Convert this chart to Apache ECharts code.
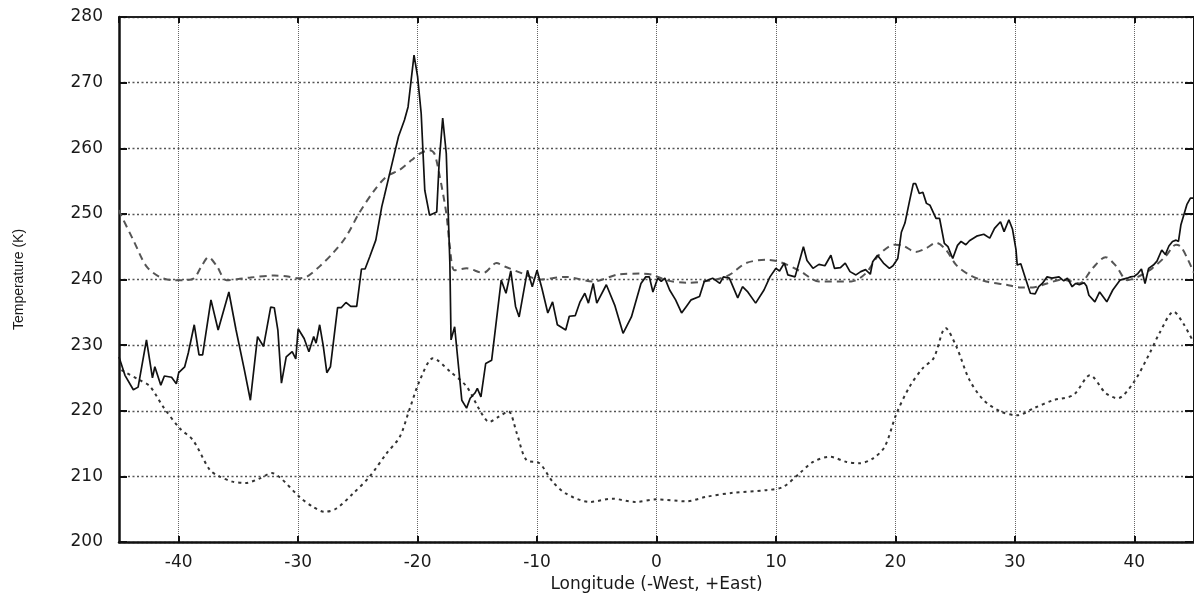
<!DOCTYPE html>
<html>
<head>
<meta charset="utf-8">
<script src="https://cdn.jsdelivr.net/npm/echarts@6/dist/echarts.min.js"></script>
<style>
    html, body { margin: 0; padding: 0; background: #fff; }
    #main { width: 1194px; height: 598px; }
</style>
</head>
<body>
<div id="main"></div>
<script>
// observed brightness temperature (solid)
var obsLon = [-45, -44.5, -43.8, -43.4, -42.7, -42.2, -42, -41.5, -41.2, -40.6, -40.2, -40, -39.5, -39.2, -38.7, -38.3, -38, -37.3, -36.7, -35.8, -35.2, -34.5, -34, -33.4, -32.9, -32.3, -32, -31.7, -31.4, -31, -30.5, -30.2, -30, -29.5, -29.1, -28.7, -28.5, -28.2, -27.9, -27.6, -27.3, -26.7, -26.4, -26, -25.6, -25.1, -24.7, -24.4, -24, -23.5, -23, -22.8, -22.2, -21.6, -21.1, -20.8, -20.3, -20, -19.7, -19.4, -19, -18.4, -18.2, -17.9, -17.6, -17.3, -17.2, -16.9, -16.6, -16.3, -15.9, -15.6, -15.2, -15, -14.7, -14.3, -13.8, -13.4, -13, -12.6, -12.2, -11.8, -11.5, -11, -10.8, -10.4, -10, -9.6, -9.1, -8.7, -8.3, -7.6, -7.3, -6.8, -6.4, -6, -5.7, -5.3, -5, -4.2, -3.5, -2.8, -2.1, -1.3, -0.9, -0.6, -0.3, 0.1, 0.4, 0.7, 1.1, 1.6, 2.1, 2.5, 2.9, 3.6, 4, 4.7, 5.3, 5.6, 6.1, 6.8, 7.2, 7.6, 8.3, 9, 9.5, 10, 10.3, 10.7, 11, 11.6, 12.3, 12.6, 13.1, 13.6, 14.1, 14.6, 14.9, 15.4, 15.8, 16.2, 16.7, 17.1, 17.5, 17.9, 18.1, 18.5, 19, 19.5, 19.8, 20.2, 20.5, 20.8, 21.2, 21.5, 21.7, 22, 22.3, 22.6, 22.9, 23.4, 23.7, 24.1, 24.4, 24.8, 25.2, 25.5, 25.9, 26.2, 26.8, 27.4, 27.9, 28.3, 28.8, 29.1, 29.5, 29.8, 30.1, 30.2, 30.5, 30.8, 31.3, 31.7, 32, 32.3, 32.7, 33.1, 33.7, 34.1, 34.4, 34.8, 35.1, 35.4, 35.8, 36, 36.2, 36.7, 37.1, 37.7, 38.2, 38.8, 39.4, 39.7, 40, 40.3, 40.6, 40.9, 41.2, 41.6, 41.9, 42.3, 42.6, 42.9, 43.2, 43.5, 43.7, 43.9, 44.4, 44.7, 45];
var obsTemp = [228.2, 225.4, 223.2, 223.6, 230.8, 225, 226.7, 223.9, 225.3, 225.1, 224.1, 225.8, 226.7, 228.8, 233.1, 228.5, 228.5, 236.9, 232.3, 238.1, 232.3, 226.2, 221.6, 231.3, 229.8, 235.8, 235.7, 232.3, 224.2, 228.2, 229, 227.9, 232.5, 231, 229, 231.3, 230.3, 233.1, 229.9, 225.8, 226.7, 235.7, 235.7, 236.5, 235.9, 235.9, 241.6, 241.6, 243.5, 246, 251.1, 252.6, 257.2, 261.8, 264.3, 266.3, 274.2, 270.9, 265.3, 253.6, 249.8, 250.3, 257.7, 264.6, 259.2, 242.5, 230.8, 232.8, 227.2, 221.6, 220.4, 221.9, 222.7, 223.4, 222.1, 227.2, 227.7, 233.8, 239.9, 237.9, 241.3, 235.9, 234.3, 239.4, 241.4, 238.9, 241.4, 238.7, 234.9, 236.6, 233.1, 232.3, 234.4, 234.5, 236.6, 237.9, 236.4, 239.4, 236.4, 239.2, 236.1, 231.8, 234.3, 239.4, 240.4, 240.4, 238.1, 240.2, 239.7, 240.2, 238.4, 236.9, 234.9, 235.9, 236.9, 237.4, 239.7, 240.2, 239.4, 240.4, 240.2, 237.2, 238.9, 238.2, 236.4, 238.4, 240.4, 241.7, 241.3, 242.5, 240.7, 240.4, 245, 242.9, 241.7, 242.3, 242.1, 243.7, 241.7, 241.8, 242.5, 241.2, 240.7, 241.2, 241.5, 240.8, 242.7, 243.7, 242.5, 241.7, 242.1, 243.2, 247.2, 248.6, 252.1, 254.6, 254.6, 253.1, 253.3, 251.6, 251.3, 249.3, 249.3, 245.5, 245, 243.2, 245.2, 245.8, 245.3, 245.9, 246.6, 246.9, 246.3, 247.8, 248.8, 247.3, 249.1, 247.7, 244.5, 242.2, 242.4, 240.7, 237.9, 237.8, 238.9, 239.4, 240.4, 240.2, 240.4, 239.8, 240.2, 238.9, 239.4, 239.2, 239.5, 239, 237.6, 236.6, 238.1, 236.6, 238.4, 239.9, 240.2, 240.4, 240.5, 240.9, 241.6, 239.4, 241.7, 242.2, 242.8, 244.5, 243.8, 245.1, 245.8, 246, 245.8, 248.3, 251.4, 252.4, 252.4];

// model curve (dashed)
var modelLon = [-45, -44.9, -43.8, -42.7, -41.6, -40.5, -39.4, -38.7, -38.1, -37.5, -36.8, -36, -34, -32, -31, -30, -29.3, -28.2, -27.1, -26, -24.9, -23.7, -22.6, -21.5, -20.5, -19.8, -19, -18.6, -18.2, -17.6, -17.3, -16.9, -15.9, -14.5, -13.4, -12.6, -11.2, -9.8, -7.6, -5.3, -3.1, -1.4, -0.3, 0.8, 2.5, 4.7, 6.1, 7.5, 9.2, 10.3, 12, 13.6, 16.3, 17.5, 18.6, 19.9, 20.6, 21.7, 22.6, 23.4, 24.2, 25.1, 26.2, 27.6, 29.3, 30.4, 31.5, 32.7, 34, 35.4, 36.5, 37.6, 38.5, 39.4, 40.3, 41.5, 42.6, 43.5, 43.9, 44.5, 45];
var modelTemp = [250.6, 250.1, 246, 242, 240.4, 239.9, 239.9, 240.2, 242, 243.4, 242, 239.9, 240.3, 240.6, 240.5, 240.2, 240.4, 242, 244, 246.5, 250.1, 253.4, 255.7, 256.7, 258.2, 259.2, 259.7, 259.2, 256.2, 250.1, 245, 241.4, 241.7, 241, 242.5, 241.9, 240.9, 240, 240.4, 239.7, 240.8, 240.9, 240.7, 239.9, 239.5, 239.9, 240.7, 242.5, 243, 242.7, 241.3, 239.7, 239.7, 240.9, 243.7, 245.3, 245.2, 244.2, 244.8, 245.6, 244.6, 242.2, 240.7, 239.7, 239.2, 238.8, 238.8, 239.4, 240, 239.4, 241.7, 243.4, 242, 239.9, 240.4, 241.7, 243.5, 245.3, 245, 243, 241];

// lower curve (dotted)
var lowLon = [-44.8, -44.5, -43.3, -42.4, -41.3, -39.9, -38.8, -37.4, -36.6, -35.5, -34.4, -33.2, -32.2, -31.5, -29.9, -28.8, -27.8, -26.8, -25.4, -24, -22.6, -21.5, -20.7, -19.8, -18.7, -17.3, -15.9, -14.8, -14, -13.2, -12.4, -11.7, -10.9, -9.8, -8.7, -7.6, -5.6, -3.7, -1.8, 0, 2.5, 4.2, 6.4, 9.2, 10.6, 12, 13.1, 14.5, 15.9, 17, 18.1, 19.1, 20.1, 21.2, 22.3, 23.2, 24.2, 25.1, 26.2, 27.4, 28.8, 30.2, 31.6, 33.2, 34.9, 36.3, 37.6, 38.6, 39.9, 41.3, 42.1, 43.3, 44.1, 45];
var lowTemp = [226.2, 225.9, 224.7, 223.7, 220.6, 217.3, 215.5, 211, 210, 209.2, 209, 209.7, 210.5, 209.8, 206.9, 205.4, 204.6, 205.1, 207.4, 210, 213.5, 216, 220.1, 224.7, 228, 226, 223.7, 220.1, 218.3, 219.1, 219.9, 216.6, 212.5, 212, 209.2, 207.4, 206.1, 206.6, 206.1, 206.5, 206.2, 206.9, 207.5, 207.9, 208.4, 210.5, 212.2, 213, 212.2, 212, 212.7, 214.5, 219.6, 223.7, 226.5, 228, 232.6, 229.8, 224.7, 221.6, 219.9, 219.3, 220.4, 221.6, 222.4, 225.4, 222.7, 221.9, 224.2, 228.8, 231.8, 235.1, 233.3, 230.3];

function pairs(xs, ys) {
    var out = [];
    for (var i = 0; i < xs.length; i++) {
        out.push([xs[i], ys[i]]);
    }
    return out;
}

var myChart = echarts.init(document.getElementById('main'));

var labelFont = {
    fontFamily: 'DejaVu Sans',
    fontSize: 17,
    color: '#1a1a1a'
};

var option = {
    animation: false,
    backgroundColor: '#fff',
    grid: { left: 119, right: -2, top: 17, bottom: 56 },
    xAxis: [
        {
            type: 'value',
            min: -45,
            max: 45,
            splitNumber: 9,
            position: 'bottom',
            name: 'Longitude (-West, +East)',
            nameLocation: 'middle',
            nameGap: 29,
            nameTextStyle: labelFont,
            axisLine: { onZero: false, lineStyle: { color: '#111', width: 2.5 } },
            axisTick: { inside: true, length: 6, lineStyle: { color: '#111', width: 2 } },
            axisLabel: {
                margin: 12,
                showMinLabel: false,
                showMaxLabel: false,
                fontFamily: 'DejaVu Sans',
                fontSize: 17,
                color: '#1a1a1a'
            },
            splitLine: { show: true, lineStyle: { color: '#666', width: 1, type: [1, 1] } }
        },
        {
            type: 'value',
            min: -45,
            max: 45,
            splitNumber: 9,
            position: 'top',
            axisLine: { onZero: false, lineStyle: { color: '#222', width: 2 } },
            axisTick: { inside: true, length: 6, lineStyle: { color: '#111', width: 2 } },
            axisLabel: { show: false },
            splitLine: { show: false }
        }
    ],
    yAxis: [
        {
            type: 'value',
            min: 200,
            max: 280,
            interval: 10,
            position: 'left',
            name: 'Temperature (K)',
            nameLocation: 'middle',
            nameGap: 93,
            nameTextStyle: {
                fontFamily: 'Liberation Sans',
                fontSize: 14,
                color: '#1a1a1a'
            },
            axisLine: { show: true, onZero: false, lineStyle: { color: '#111', width: 2.5 } },
            axisTick: { inside: true, length: 8, lineStyle: { color: '#111', width: 2 } },
            axisLabel: {
                margin: 16,
                fontFamily: 'DejaVu Sans',
                fontSize: 17,
                color: '#1a1a1a'
            },
            splitLine: { show: true, lineStyle: { color: '#555', width: 1.3, type: [2, 2.5] } }
        },
        {
            type: 'value',
            min: 200,
            max: 280,
            interval: 10,
            position: 'right',
            axisLine: { show: true, onZero: false, lineStyle: { color: '#111', width: 2 } },
            axisTick: { show: true, inside: true, length: 9, lineStyle: { color: '#111', width: 2 } },
            axisLabel: { show: false },
            splitLine: { show: false }
        }
    ],
    series: [
        {
            name: 'model',
            type: 'line',
            data: pairs(modelLon, modelTemp),
            showSymbol: false,
            smooth: 0.3,
            lineStyle: { color: '#555', width: 2, type: [7, 5] },
            z: 2
        },
        {
            name: 'lower',
            type: 'line',
            data: pairs(lowLon, lowTemp),
            showSymbol: false,
            smooth: 0.3,
            lineStyle: { color: '#333', width: 2, type: [3, 4] },
            z: 2
        },
        {
            name: 'observed',
            type: 'line',
            data: pairs(obsLon, obsTemp),
            showSymbol: false,
            lineStyle: { color: '#111', width: 1.7 },
            z: 3
        }
    ]
};

myChart.setOption(option);
</script>
</body>
</html>
